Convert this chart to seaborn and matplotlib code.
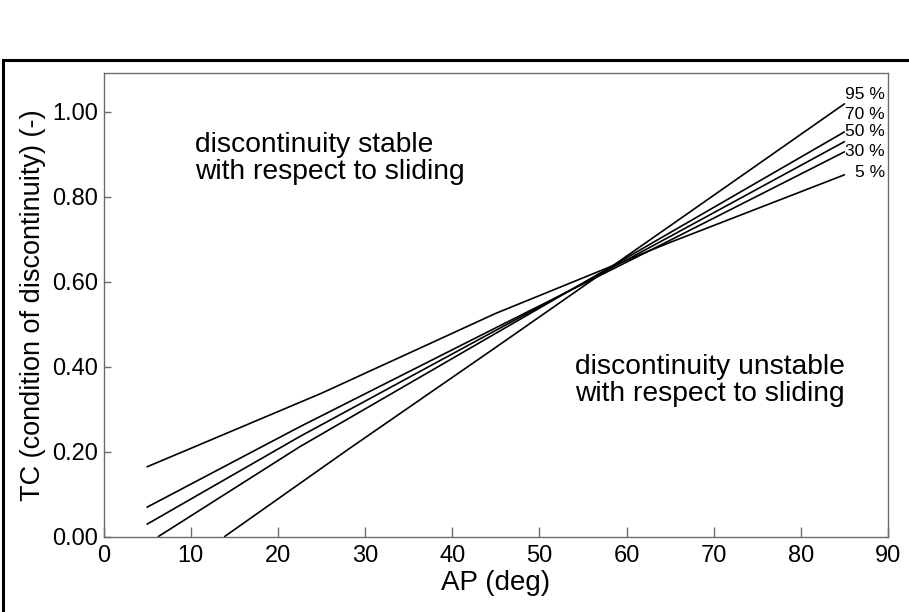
import matplotlib
matplotlib.use("Agg")
import matplotlib.pyplot as plt
from matplotlib.patches import Rectangle
import pandas as pd
import seaborn as sns

# Limit-equilibrium curves: TC versus AP for several probability levels
ap_5 = [5, 25, 45, 65, 85]
tc_5 = [0.164, 0.337, 0.525, 0.692, 0.851]

ap_30 = [5, 22.5, 45, 65, 85]
tc_30 = [0.069, 0.258, 0.491, 0.697, 0.905]

ap_50 = [5, 22.5, 45, 65, 85]
tc_50 = [0.029, 0.235, 0.485, 0.706, 0.929]

ap_70 = [6.3, 22.5, 45, 65, 85]
tc_70 = [0.0, 0.211, 0.478, 0.715, 0.952]

ap_95 = [13.9, 28.0, 45, 65, 85]
tc_95 = [0.0, 0.204, 0.445, 0.731, 1.018]

curve_names = ["95 %", "70 %", "50 %", "30 %", "5 %"]
x_ticks = [0, 10, 20, 30, 40, 50, 60, 70, 80, 90]
y_ticks = [0.00, 0.20, 0.40, 0.60, 0.80, 1.00]
y_tick_labels = ["0.00", "0.20", "0.40", "0.60", "0.80", "1.00"]

curves = {
    "95 %": (ap_95, tc_95),
    "70 %": (ap_70, tc_70),
    "50 %": (ap_50, tc_50),
    "30 %": (ap_30, tc_30),
    "5 %": (ap_5, tc_5),
}
frames = []
for name in curve_names:
    xs, ys = curves[name]
    frames.append(pd.DataFrame({"AP": xs, "TC": ys, "curve": name}))
df = pd.concat(frames, ignore_index=True)

sns.set_theme(style="ticks")
plt.rcParams["font.family"] = ["Liberation Sans", "DejaVu Sans"]

W, H = 909, 612
fig = plt.figure(figsize=(W / 100, H / 100), dpi=100)
ax = fig.add_axes([103.5 / W, 1 - 536.5 / H, (888 - 103.5) / W, (536.5 - 73) / H])

sns.lineplot(
    data=df, x="AP", y="TC", hue="curve", units="curve",
    estimator=None, sort=False, legend=False,
    palette={n: "black" for n in curve_names}, linewidth=1.2, ax=ax,
)

ax.set_xlim(0, 90)
ax.set_ylim(0, 1.0906)
ax.set_xticks(x_ticks)
ax.set_xticklabels([str(t) for t in x_ticks])
ax.set_yticks(y_ticks)
ax.set_yticklabels(y_tick_labels)

spine_col = "#6b6b6b"
for s in ax.spines.values():
    s.set_color(spine_col)
    s.set_linewidth(1.0)
    s.set_visible(True)

ax.tick_params(axis="x", direction="in", length=7.5, width=1.0, color=spine_col,
               labelsize=17, pad=6, labelcolor="black")
ax.tick_params(axis="y", direction="in", length=5, width=1.0, color=spine_col,
               labelsize=17, pad=4, labelcolor="black")

ax.set_xlabel("AP (deg)", fontsize=20, labelpad=2, color="black")
ax.set_ylabel("TC (condition of discontinuity) (-)", fontsize=19.5, labelpad=4, color="black")

# curve labels at the right end
label_y = [1.039, 0.994, 0.954, 0.907, 0.857]
for name, yv in zip(curve_names, label_y):
    ax.text(89.65, yv, name, ha="right", va="center", fontsize=12.5, color="black")

ax.text(10.5, 0.89, "discontinuity stable\nwith respect to sliding",
        ha="left", va="center", fontsize=20.3, linespacing=1.05, color="black")
ax.text(54.1, 0.368, "discontinuity unstable\nwith respect to sliding",
        ha="left", va="center", fontsize=20.3, linespacing=1.05, color="black")

# outer frame around the figure panel
fig.patches.append(Rectangle((2.5 / W, -0.2), 1.2, 0.2 + 1 - 59.5 / H,
                             transform=fig.transFigure, fill=False,
                             edgecolor="black", linewidth=2.2, clip_on=False))

fig.savefig("out.png", dpi=100)
